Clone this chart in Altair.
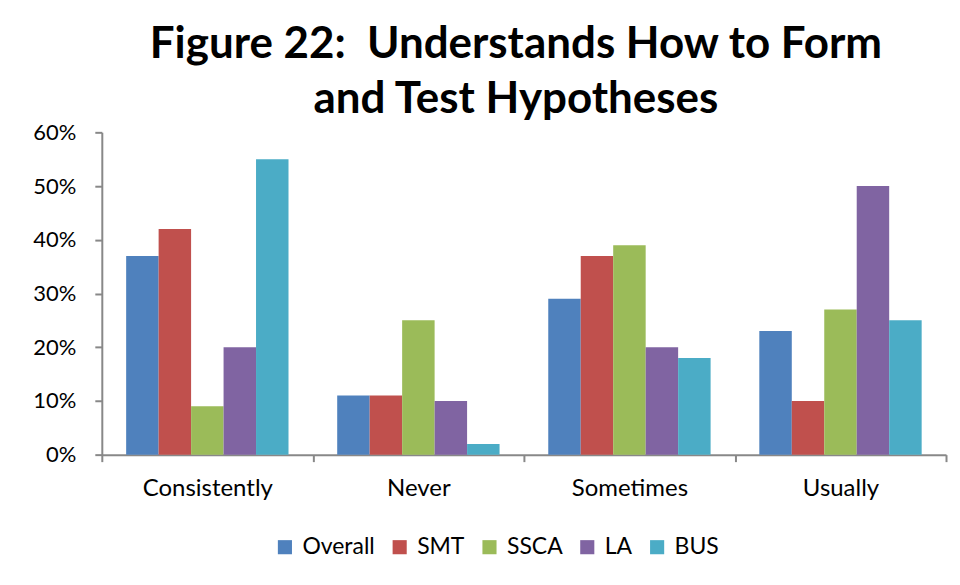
import altair as alt
import pandas as pd

categories = ["Consistently", "Never", "Sometimes", "Usually"]
series = ["Overall", "SMT", "SSCA", "LA", "BUS"]
colors = ["#4F81BD", "#C0504D", "#9BBB59", "#8064A2", "#4BACC6"]
overall = [37, 11, 29, 23]
smt = [42, 11, 37, 10]
ssca = [9, 25, 39, 27]
la = [20, 10, 20, 50]
bus = [55, 2, 18, 25]

rows = []
for s, vals in zip(series, [overall, smt, ssca, la, bus]):
    for c, v in zip(categories, vals):
        rows.append({"category": c, "series": s, "value": v / 100})
df = pd.DataFrame(rows)

FONT = "Lato"

chart = alt.Chart(df).mark_bar().encode(
    x=alt.X("category:N", sort=categories, title=None,
            scale=alt.Scale(paddingInner=0, paddingOuter=0),
            axis=alt.Axis(labelAngle=0, tickBand="extent", labelFontSize=24,
                          labelFont=FONT, labelColor="#000", domainColor="#888",
                          tickColor="#888", tickSize=7, domainWidth=2, tickWidth=2,
                          labelPadding=15)),
    xOffset=alt.XOffset("series:N", sort=series,
                        scale=alt.Scale(paddingInner=0, paddingOuter=0.75)),
    y=alt.Y("value:Q", title=None,
            scale=alt.Scale(domain=[0, 0.6]),
            axis=alt.Axis(format=".0%", values=[0, 0.1, 0.2, 0.3, 0.4, 0.5, 0.6],
                          grid=False, labelFontSize=22, labelFont=FONT,
                          labelColor="#000", domainColor="#888", tickColor="#888",
                          tickSize=7, domainWidth=2, tickWidth=2, labelPadding=19)),
    color=alt.Color("series:N", sort=series,
                    scale=alt.Scale(domain=series, range=colors),
                    legend=alt.Legend(orient="none", legendX=172, legendY=404,
                                      direction="horizontal", title=None,
                                      symbolType="square", symbolSize=200,
                                      symbolStrokeWidth=0, labelFontSize=23,
                                      labelFont=FONT, labelColor="#000",
                                      columnPadding=13, labelOffset=6)),
).properties(
    width=846, height=323,
    title=alt.Title(["Figure 22:\u00a0\u00a0Understands How to Form", "and Test Hypotheses"],
                    fontSize=44, font=FONT, fontWeight="bold", color="#000",
                    anchor="middle", lineHeight=55, offset=-1, dx=-8),
    padding={"left": 24, "top": 15, "right": 5, "bottom": 5},
).configure_view(stroke=None)

chart.save("out.html", embed_options={"renderer": "svg", "actions": False})
